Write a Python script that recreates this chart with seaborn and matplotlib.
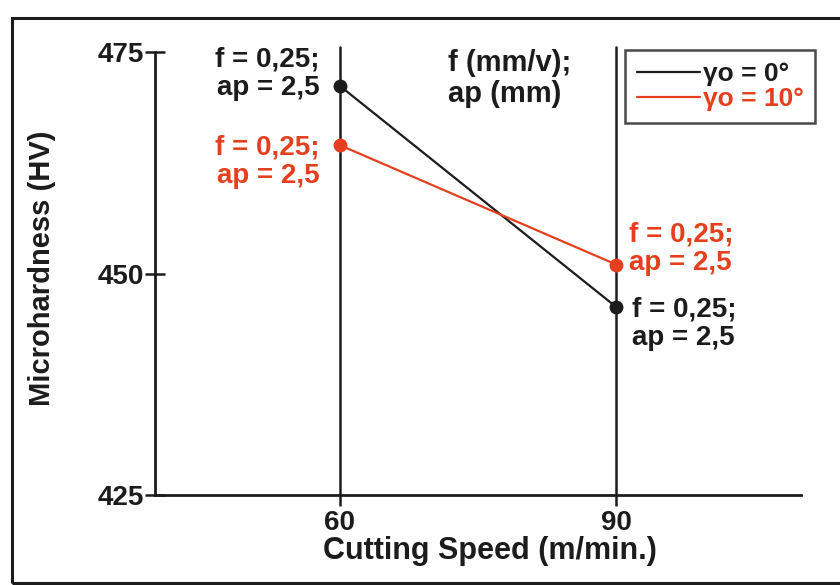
import matplotlib
matplotlib.use("Agg")
import matplotlib.pyplot as plt
import seaborn as sns
import pandas as pd
from matplotlib.patches import Rectangle
from matplotlib.lines import Line2D

speeds = [60, 90]
hv_gamma0 = [471.2, 446.2]
hv_gamma10 = [464.5, 451.0]
series_labels = ["γo = 0°", "γo = 10°"]
y_ticks = [425, 450, 475]
x_ticks = [60, 90]
point_note = "f = 0,25;\nap = 2,5"
units_note = "f (mm/v);\nap (mm)"

BLACK = "#1c1c1c"
RED = "#e4401f"

sns.set_style("white")
plt.rcParams["font.family"] = ["Liberation Sans Narrow", "Liberation Sans", "DejaVu Sans"]
plt.rcParams["font.weight"] = "bold"

df = pd.DataFrame({
    "speed": speeds * 2,
    "hv": hv_gamma0 + hv_gamma10,
    "series": [series_labels[0]] * 2 + [series_labels[1]] * 2,
})

fig = plt.figure(figsize=(8.4, 5.85), dpi=100)
# outer frame of the scanned figure
fig.add_artist(Rectangle((12 / 840, 2 / 585), 1.2, 1 - 20 / 585,
                         transform=fig.transFigure, fill=False,
                         edgecolor=BLACK, linewidth=2.2))

ax = fig.add_axes([155 / 840, 90 / 585, 646 / 840, 443 / 585])
ax.set_xlim(40, 110)
ax.set_ylim(425, 475)

# vertical reference lines at the tested speeds
for xv in x_ticks:
    ax.plot([xv, xv], [425, 475.6], color=BLACK, lw=1.8, clip_on=False, zorder=1)

sns.lineplot(data=df, x="speed", y="hv", hue="series",
             palette={series_labels[0]: BLACK, series_labels[1]: RED},
             marker="o", markersize=10, markeredgewidth=0,
             linewidth=1.6, ax=ax, zorder=3, legend=False)

for sp in ["top", "right"]:
    ax.spines[sp].set_visible(False)
for sp in ["left", "bottom"]:
    ax.spines[sp].set_color(BLACK)
    ax.spines[sp].set_linewidth(2.0)

ax.set_yticks(y_ticks)
ax.set_xticks(x_ticks)
ax.tick_params(axis="y", left=True, direction="inout", length=14, width=1.8,
               colors=BLACK, labelsize=20, pad=1)
ax.tick_params(axis="x", bottom=True, direction="out", length=8, width=1.8,
               colors=BLACK, labelsize=20, pad=3)
for lab in ax.get_xticklabels() + ax.get_yticklabels():
    lab.set_fontweight("bold")

ax.set_xlabel("Cutting Speed (m/min.)", fontsize=22, fontweight="bold", color=BLACK)
ax.set_ylabel("Microhardness (HV)", fontsize=21, fontweight="bold", color=BLACK)
ax.xaxis.set_label_coords(0.519, -0.126)
ax.xaxis.label.set_va("center")
ax.yaxis.set_label_coords(-0.175, 0.512)
ax.yaxis.label.set_va("center")

fs = 20
ls = 1.12
ax.annotate(point_note, (speeds[0], hv_gamma0[0]), xytext=(-20, 12),
            textcoords="offset pixels", ha="right", va="center",
            fontsize=fs, fontweight="bold", color=BLACK, linespacing=ls)
ax.annotate(point_note, (speeds[0], hv_gamma10[0]), xytext=(-20, -17),
            textcoords="offset pixels", ha="right", va="center",
            fontsize=fs, fontweight="bold", color=RED, linespacing=ls)
ax.annotate(point_note, (speeds[1], hv_gamma10[1]), xytext=(13, 16),
            textcoords="offset pixels", ha="left", va="center",
            fontsize=fs, fontweight="bold", color=RED, linespacing=ls)
ax.annotate(point_note, (speeds[1], hv_gamma0[1]), xytext=(16, -17),
            textcoords="offset pixels", ha="left", va="center",
            fontsize=fs, fontweight="bold", color=BLACK, linespacing=ls)
ax.text(71.7, 472.0, units_note, ha="left", va="center", fontsize=fs + 1,
        fontweight="bold", color=BLACK, linespacing=ls)

handles = [Line2D([], [], color=BLACK, lw=1.6), Line2D([], [], color=RED, lw=1.6)]
leg = ax.legend(handles, series_labels, loc="upper left",
                bbox_to_anchor=(625 / 840, 1 - 50 / 585), bbox_transform=fig.transFigure,
                fontsize=19, frameon=True, fancybox=False, handlelength=2.4,
                handletextpad=0.1, borderpad=0.45, labelspacing=0.05, borderaxespad=0)
leg.get_frame().set_edgecolor(BLACK)
leg.get_frame().set_linewidth(1.8)
for t, c in zip(leg.get_texts(), [BLACK, RED]):
    t.set_color(c)
    t.set_fontweight("bold")

fig.savefig("out.png", dpi=100)
